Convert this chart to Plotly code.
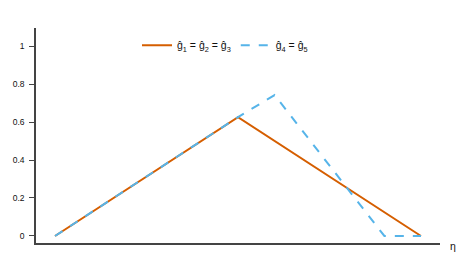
import plotly.graph_objects as go

eta_a = [0, 0.5, 1.0]
g_a = [0, 0.626, 0]
eta_b = [0, 0.5, 0.6, 0.9, 1.0]
g_b = [0, 0.626, 0.742, 0, 0]
name_a = "ĝ<sub>1</sub> = ĝ<sub>2</sub> = ĝ<sub>3</sub>"
name_b = "ĝ<sub>4</sub> = ĝ<sub>5</sub>"
yticks = [0, 0.2, 0.4, 0.6, 0.8, 1]
yticktext = ["0", "0.2", "0.4", "0.6", "0.8", "1"]

fig = go.Figure()
fig.add_trace(go.Scatter(x=eta_a, y=g_a, mode="lines", name=name_a,
                         line=dict(color="#D55E00", width=2)))
fig.add_trace(go.Scatter(x=eta_b, y=g_b, mode="lines", name=name_b,
                         line=dict(color="#56B4E9", width=2, dash="dash")))
fig.update_layout(
    width=468, height=274,
    margin=dict(l=36, r=28, t=28, b=31),
    paper_bgcolor="white", plot_bgcolor="white",
    font=dict(family="Liberation Sans, Arial, sans-serif", size=9, color="#111"),
    showlegend=True,
    legend=dict(orientation="h", x=0.25, y=0.92, xanchor="left", yanchor="middle",
                bgcolor="rgba(0,0,0,0)", font=dict(size=10.5)),
    xaxis=dict(range=[-0.052, 1.052], showgrid=False, zeroline=False, showline=True,
               linecolor="#444", linewidth=1.5, showticklabels=False, ticks=""),
    yaxis=dict(range=[-0.037, 1.095], showgrid=False, zeroline=False, showline=True,
               linecolor="#444", linewidth=1.5, tickvals=yticks, ticktext=yticktext,
               ticks="outside", ticklen=5, tickcolor="#444", tickwidth=1,
               ticklabelstandoff=3, tickfont=dict(size=8.5)),
    annotations=[dict(text="η", x=1.02, y=-0.014, xref="paper", yref="paper",
                      xanchor="left", yanchor="middle", showarrow=False,
                      font=dict(size=10.5))],
)
fig.write_html("out.html", config={"displayModeBar": False},
               post_script="document.body.style.margin='0';")
